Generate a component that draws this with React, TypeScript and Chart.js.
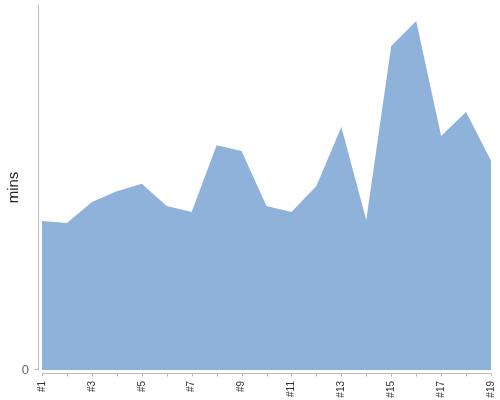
import React, { useEffect, useRef } from "react";
import { Chart, registerables } from "chart.js";

Chart.register(...registerables);

const categories = ["#1", "#2", "#3", "#4", "#5", "#6", "#7", "#8", "#9", "#10", "#11", "#12", "#13", "#14", "#15", "#16", "#17", "#18", "#19"];
const minutes = [40.8, 40.3, 46.0, 49.0, 51.0, 44.9, 43.3, 61.6, 60.0, 44.9, 43.3, 50.4, 66.6, 41.1, 88.8, 95.6, 64.1, 70.7, 57.3];
const yTickValues = [0];
const yTitle = "mins";

const axisLines = {
  id: "axisLines",
  afterDraw(chart: any) {
    const { ctx, chartArea, scales } = chart;
    const { left, right, top, bottom } = chartArea;
    const x = scales.x;
    ctx.save();
    ctx.strokeStyle = "#bbbbbb";
    ctx.lineWidth = 1;
    ctx.beginPath();
    const vx = Math.round(left - 3) - 0.5;
    ctx.moveTo(vx, top);
    ctx.lineTo(vx, bottom + 0.5);
    ctx.moveTo(vx - 4, Math.round(bottom) - 0.5);
    ctx.lineTo(vx, Math.round(bottom) - 0.5);
    const hy = Math.round(bottom + 3) + 0.5;
    ctx.moveTo(left, hy);
    ctx.lineTo(right, hy);
    for (let i = 0; i < categories.length; i++) {
      const px = Math.round(x.getPixelForValue(i)) + 0.5;
      ctx.moveTo(px, hy);
      ctx.lineTo(px, hy + 3);
    }
    ctx.stroke();
    ctx.restore();
  },
};

const zeroPad = (s: any) => {
  s.paddingTop = 0;
  s.paddingBottom = 0;
  s.paddingLeft = 0;
  s.paddingRight = 0;
};

export default function App() {
  const ref = useRef<HTMLCanvasElement>(null);
  useEffect(() => {
    if (!ref.current) return;
    const chart = new Chart(ref.current, {
      type: "line",
      data: {
        labels: categories,
        datasets: [
          {
            data: minutes,
            fill: "origin",
            backgroundColor: "#8fb2da",
            borderColor: "#8fb2da",
            borderWidth: 0,
            pointRadius: 0,
            tension: 0,
          },
        ],
      },
      options: {
        animation: false,
        responsive: false,
        maintainAspectRatio: false,
        layout: { padding: { left: 0, right: 9, top: 5, bottom: 0 } },
        plugins: { legend: { display: false }, tooltip: { enabled: false } },
        scales: {
          x: {
            type: "category",
            offset: false,
            grid: { display: false, drawTicks: false },
            border: { display: false },
            ticks: {
              autoSkip: false,
              maxRotation: 90,
              minRotation: 90,
              padding: 11,
              color: "#333",
              font: { family: "'Liberation Sans', Arial, sans-serif", size: 10 },
              callback: (_v: any, i: number) => (i % 2 === 0 ? categories[i] : ""),
            },
            afterFit: (s: any) => {
              s.height = 30;
              zeroPad(s);
            },
          },
          y: {
            min: 0,
            max: 100,
            grid: { display: false, drawTicks: false },
            border: { display: false },
            afterBuildTicks: (s: any) => {
              s.ticks = yTickValues.map((v) => ({ value: v }));
            },
            ticks: {
              padding: 13,
              color: "#666",
              font: { family: "'Liberation Sans', Arial, sans-serif", size: 13 },
            },
            title: {
              display: true,
              text: yTitle,
              color: "#222",
              padding: { top: 5, bottom: 0 },
              font: { family: "'Liberation Sans', Arial, sans-serif", size: 15 },
            },
            afterFit: (s: any) => {
              s.width = 42;
              zeroPad(s);
            },
          },
        },
      },
      plugins: [axisLines],
    });
    return () => chart.destroy();
  }, []);
  return (
    <div style={{ position: "fixed", left: 0, top: 0, width: 500, height: 400, background: "#fff" }}>
      <canvas ref={ref} width={500} height={400} style={{ width: 500, height: 400 }} />
    </div>
  );
}
